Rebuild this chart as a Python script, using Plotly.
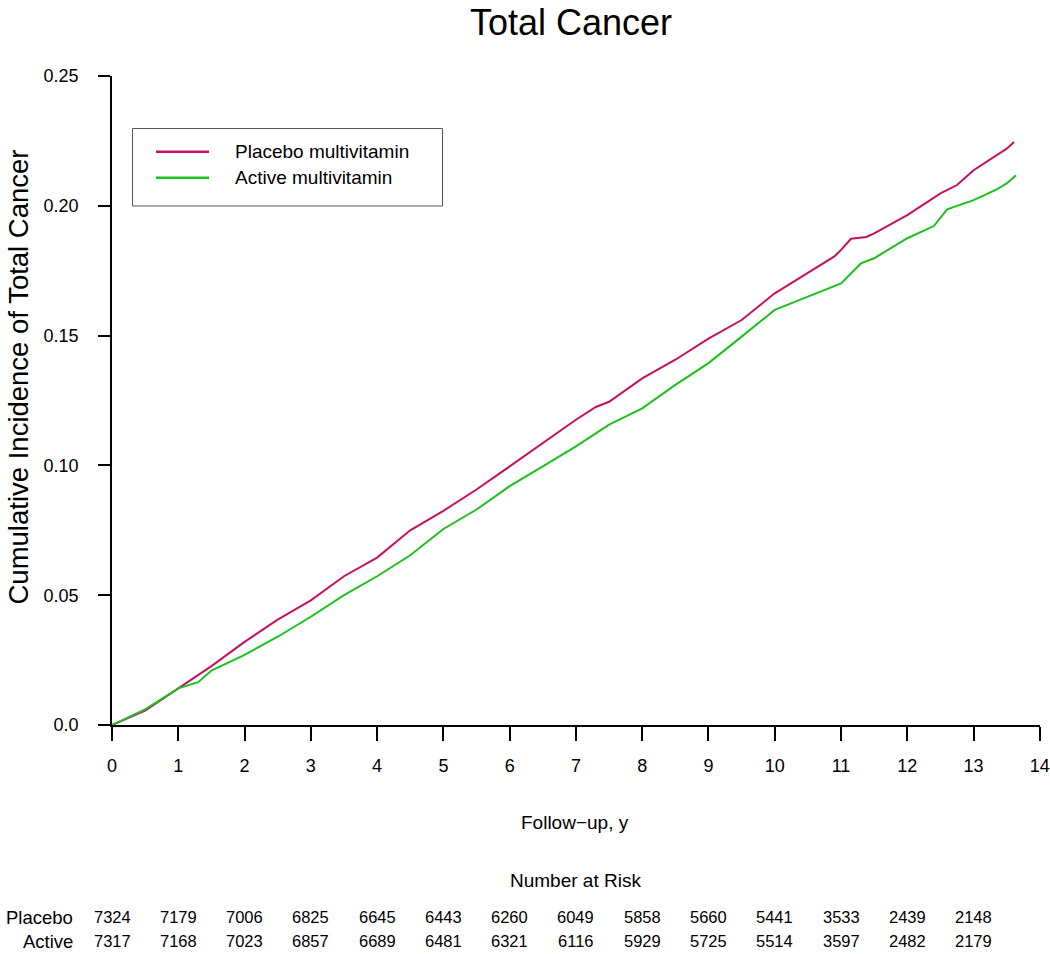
import plotly.graph_objects as go

# ---- data ----
years_placebo = [0, 0.5, 1, 1.5, 2, 2.5, 3, 3.5, 4, 4.5, 5, 5.5, 6, 6.5, 7, 7.3, 7.5, 8, 8.5, 9,
                 9.5, 10, 10.5, 10.9, 11, 11.15, 11.38, 11.5, 12, 12.5, 12.75, 13, 13.5, 13.61]
cuminc_placebo = [0, 0.0055, 0.0141, 0.0227, 0.032, 0.0406, 0.048, 0.0573, 0.0645, 0.075, 0.0825,
                  0.0907, 0.0996, 0.1086, 0.1176, 0.1225, 0.1245, 0.1335, 0.1407, 0.1488,
                  0.156, 0.1663, 0.1742, 0.1805, 0.183, 0.1873, 0.188, 0.1894, 0.1964, 0.2048,
                  0.208, 0.2137, 0.222, 0.2246]

years_active = [0, 0.5, 1, 1.3, 1.5, 2, 2.5, 3, 3.5, 4, 4.5, 5, 5.5, 6, 6.5, 7, 7.5, 8, 8.5, 9,
                9.5, 10, 10.5, 11, 11.3, 11.5, 12, 12.4, 12.6, 13, 13.35, 13.5, 13.64]
cuminc_active = [0, 0.006, 0.0141, 0.0165, 0.021, 0.027, 0.034, 0.0417, 0.05, 0.0573, 0.0654,
                 0.0755, 0.083, 0.092, 0.0996, 0.1073, 0.1157, 0.122, 0.131, 0.1394,
                 0.1496, 0.1599, 0.165, 0.1701, 0.1778, 0.1798, 0.1875, 0.1922, 0.1986,
                 0.2022, 0.2063, 0.2086, 0.2118]

risk_times = list(range(14))
risk_placebo = [7324, 7179, 7006, 6825, 6645, 6443, 6260, 6049, 5858, 5660, 5441, 3533, 2439, 2148]
risk_active = [7317, 7168, 7023, 6857, 6689, 6481, 6321, 6116, 5929, 5725, 5514, 3597, 2482, 2179]

x_ticks = list(range(15))
y_tickvals = [0, 0.05, 0.10, 0.15, 0.20, 0.25]
y_ticktext = ["0.0", "0.05", "0.10", "0.15", "0.20", "0.25"]

series_names = ["Placebo multivitamin", "Active multivitamin"]
colors = ["#C8105F", "#1DC01D"]

FONT = "Arial, 'Liberation Sans', Helvetica, sans-serif"

fig = go.Figure()
fig.add_trace(go.Scatter(x=years_placebo, y=cuminc_placebo, mode="lines", name=series_names[0],
                         line=dict(color=colors[0], width=2), showlegend=False))
fig.add_trace(go.Scatter(x=years_active, y=cuminc_active, mode="lines", name=series_names[1],
                         line=dict(color=colors[1], width=2), showlegend=False))

W, H = 1050, 954
L, R, T, B = 112, 10, 76, 229
pw = W - L - R
ph = H - T - B


def px(xp):
    return (xp - L) / pw


def py(yp):
    return (H - B - yp) / ph


annotations = []
# title
annotations.append(dict(text="Total Cancer", x=px(571), y=py(0), xref="paper", yref="paper",
                        showarrow=False, font=dict(size=36, color="black", family=FONT),
                        xanchor="center", yanchor="top"))
# y title
annotations.append(dict(text="Cumulative Incidence of Total Cancer", x=px(0), y=py(377),
                        xref="paper", yref="paper", showarrow=False, textangle=-90,
                        font=dict(size=27.5, color="black", family=FONT),
                        xanchor="left", yanchor="middle"))
# x title
annotations.append(dict(text="Follow\u2212up, y", x=px(575), y=py(822), xref="paper", yref="paper",
                        showarrow=False, font=dict(size=19, color="black", family=FONT),
                        xanchor="center", yanchor="middle"))
annotations.append(dict(text="Number at Risk", x=px(575), y=py(880), xref="paper", yref="paper",
                        showarrow=False, font=dict(size=19, color="black", family=FONT),
                        xanchor="center", yanchor="middle"))
# risk table
row_y = [py(917), py(941)]
for lab, yy in zip(["Placebo", "Active"], row_y):
    annotations.append(dict(text=lab, x=px(75), y=yy, xref="paper", yref="paper", showarrow=False,
                            font=dict(size=18.5, color="black", family=FONT),
                            xanchor="right", yanchor="middle"))
for vals, yy in zip([risk_placebo, risk_active], row_y):
    for t, v in zip(risk_times, vals):
        annotations.append(dict(text=str(v), x=t, y=yy, xref="x", yref="paper", showarrow=False,
                                font=dict(size=16.5, color="black", family=FONT),
                                xanchor="center", yanchor="middle"))
# legend texts
for name, yl in zip(series_names, [151.7, 177.7]):
    annotations.append(dict(text=name, x=px(233), y=py(yl), xref="paper", yref="paper",
                            showarrow=False, font=dict(size=19, color="black", family=FONT),
                            xanchor="left", yanchor="middle"))

shapes = [
    dict(type="rect", xref="paper", yref="paper", x0=px(132.5), x1=px(442.5), y0=py(206), y1=py(128.5),
         line=dict(color="#555555", width=1), fillcolor="rgba(0,0,0,0)"),
]
for c, yl in zip(colors, [151.7, 177.7]):
    shapes.append(dict(type="line", xref="paper", yref="paper", x0=px(156), x1=px(209),
                       y0=py(yl), y1=py(yl), line=dict(color=c, width=2.5)))

fig.update_layout(
    width=W, height=H,
    margin=dict(l=L, r=R, t=T, b=B, autoexpand=False),
    paper_bgcolor="white", plot_bgcolor="white",
    font=dict(family=FONT, size=18, color="black"),
    showlegend=False,
    annotations=annotations,
    shapes=shapes,
    xaxis=dict(range=[0, 14.002], tickvals=x_ticks, ticktext=[str(v) for v in x_ticks],
               showgrid=False, zeroline=False, showline=True, linecolor="black", linewidth=1.5,
               ticks="outside", ticklen=14, tickwidth=1.5, tickcolor="black",
               tickfont=dict(size=18, family=FONT), ticklabelstandoff=10),
    yaxis=dict(range=[0, 0.25], tickvals=y_tickvals, ticktext=y_ticktext,
               showgrid=False, zeroline=False, showline=True, linecolor="black", linewidth=1.5,
               ticks="outside", ticklen=12, tickwidth=1.5, tickcolor="black",
               tickfont=dict(size=18, family=FONT), ticklabelstandoff=16),
)

fig.write_html("out.html", config={"displayModeBar": False},
               post_script="document.body.style.margin='0px';document.body.style.overflow='hidden';")
